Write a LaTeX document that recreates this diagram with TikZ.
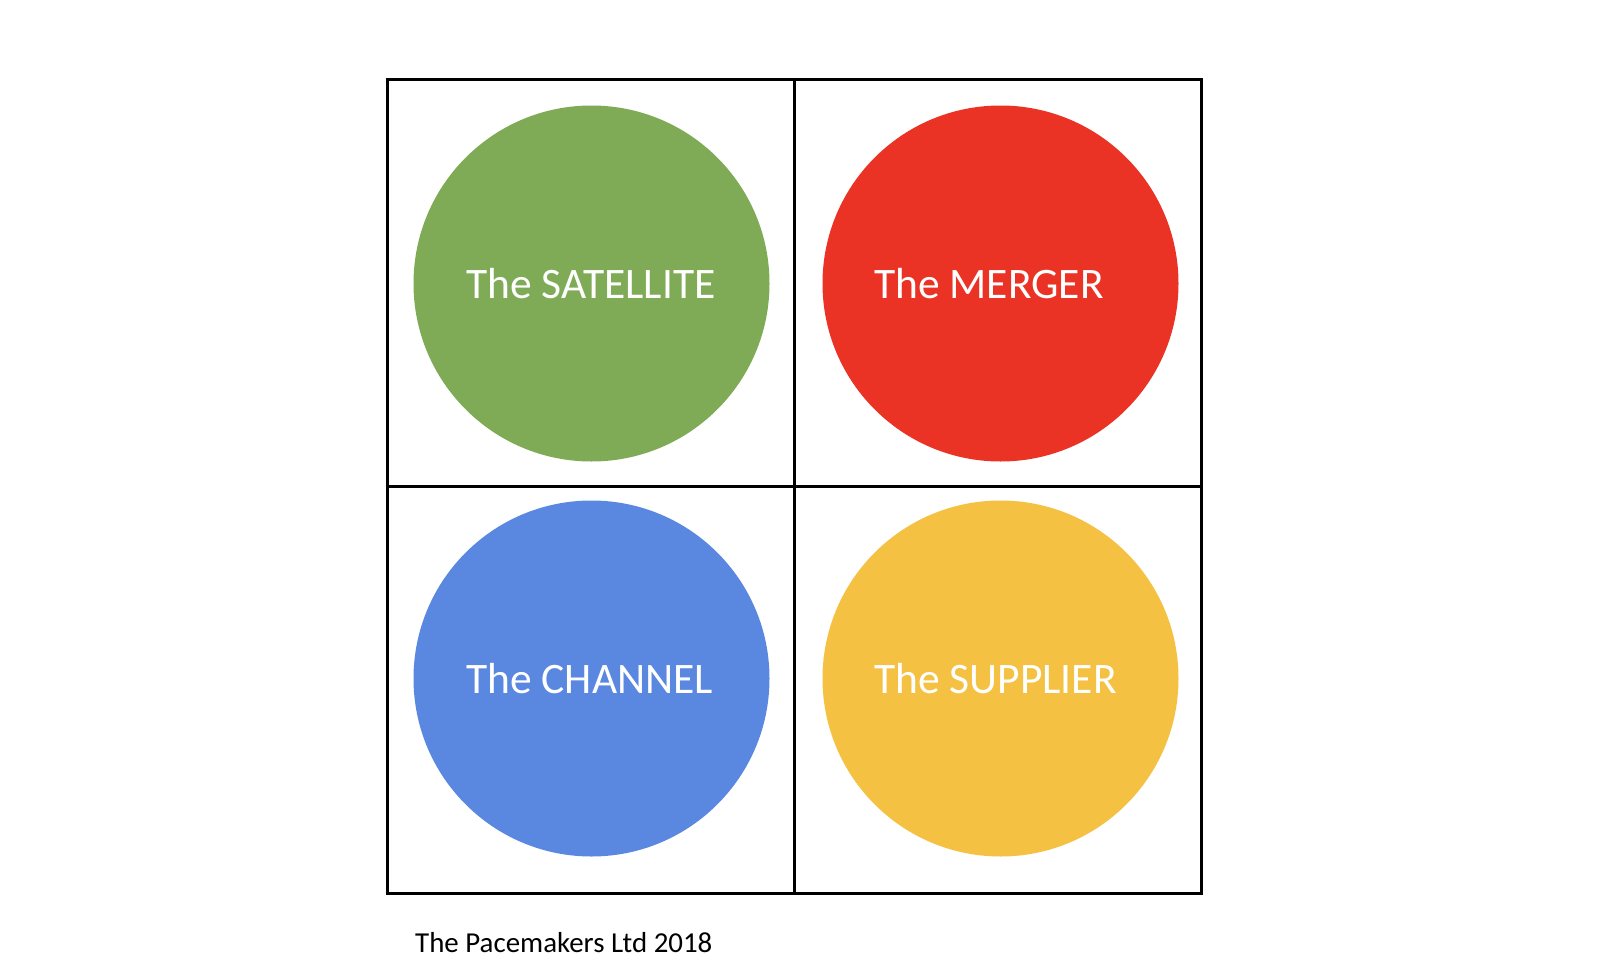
\documentclass[tikz,border=0pt]{standalone}
\usepackage{fontspec}
\setmainfont{Carlito}
\definecolor{cgreen}{RGB}{127,171,86}
\definecolor{cred}{RGB}{234,51,36}
\definecolor{cblue}{RGB}{90,136,224}
\definecolor{cyellow}{RGB}{245,193,67}
\begin{document}
\begin{tikzpicture}[x=1pt,y=-1pt,
  gridline/.style={line width=3pt,black},
  disc/.style={circle,minimum size=356pt,inner sep=0pt,draw=none},
  lbl/.style={anchor=base west,text=white,font=\fontsize{43.5}{43.5}\selectfont,inner sep=0pt},
]
\useasboundingbox (0,0) rectangle (1607,964);
\node[disc,fill=cgreen] (sat) at (591.5,283.5) {};
\node[disc,fill=cred] (mer) at (1000.5,283.5) {};
\node[disc,fill=cblue] (cha) at (591.5,678.5) {};
\node[disc,fill=cyellow] (sup) at (1000.5,678.5) {};
\node[lbl] (tsat) at (466,298) {The SATELLITE};
\node[lbl] (tmer) at (874,298) {The MERGER};
\node[lbl] (tcha) at (466,693) {The CHANNEL};
\node[lbl] (tsup) at (874,693) {The SUPPLIER};
\draw[gridline] (387.5,79.5) rectangle (1201,893);
\draw[gridline] (794.5,79.5) -- (794.5,893);
\draw[gridline] (387.5,486.5) -- (1201,486.5);
\node[anchor=base west,inner sep=0pt,font=\fontsize{28.9}{28.9}\selectfont] (foot) at (415,952) {The Pacemakers Ltd 2018};
\end{tikzpicture}
\end{document}
